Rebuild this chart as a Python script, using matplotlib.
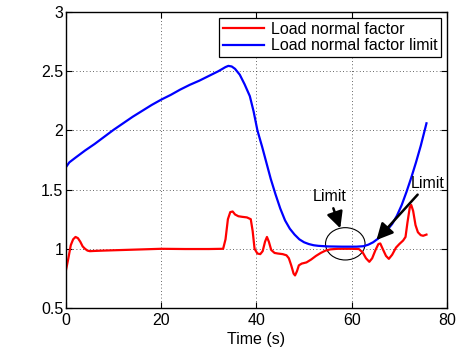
import matplotlib
matplotlib.use("Agg")
import matplotlib.pyplot as plt
from matplotlib.patches import Ellipse

plt.rcParams['font.family'] = ['Liberation Sans', 'DejaVu Sans']

# Load normal factor (red)
t_load = [0, 0.5, 1.0, 1.5, 2.0, 2.5, 3.0, 3.5, 4.0, 4.5, 5.0, 6, 8, 12, 16, 20, 25, 30, 33,
          33.5, 34, 34.5, 35, 35.5, 36.2, 37, 38, 38.8, 39.2, 39.6, 40.2, 40.8, 41.3, 41.8,
          42.2, 42.6, 43.1, 43.8, 44.5, 45.5, 46.3, 46.8, 47.3, 47.8, 48.1, 48.5, 48.9, 49.5,
          50.5, 51.5, 52.5, 53.5, 54.5, 55.5, 57, 60, 61.5, 62.3, 63, 63.7, 64.3, 65, 65.6,
          66, 66.5, 67.2, 67.8, 68.5, 69.3, 70, 70.8, 71.3, 71.7, 72.2, 72.5, 72.9, 73.4,
          73.9, 74.5, 75, 75.7]
load = [0.82, 0.92, 1.03, 1.08, 1.10, 1.09, 1.06, 1.02, 1.00, 0.985, 0.98, 0.982, 0.985,
        0.99, 0.995, 1.0, 0.998, 0.998, 1.0,
        1.08, 1.25, 1.31, 1.315, 1.29, 1.275, 1.27, 1.265, 1.25, 1.15, 1.0, 0.96, 0.955,
        0.98, 1.06, 1.10, 1.06, 0.99, 0.965, 0.96, 0.955, 0.945, 0.92, 0.86, 0.79, 0.775,
        0.81, 0.86, 0.875, 0.885, 0.91, 0.94, 0.965, 0.985, 0.995, 1.0, 1.0, 0.998, 0.97,
        0.92, 0.89, 0.92, 0.99, 1.04, 1.045, 1.0, 0.94, 0.915, 0.95, 1.01, 1.04, 1.07,
        1.10, 1.22, 1.35, 1.37, 1.32, 1.20, 1.14, 1.115, 1.11, 1.12]

# Load normal factor limit (blue)
t_limit = [0, 0.7, 2, 4, 6, 8, 10, 12, 14, 16, 18, 20, 22, 24, 26, 28, 30, 32, 33.5, 34.1,
           34.8, 35.5, 36.5, 37.5, 38.6, 39.4, 40.2, 41.2, 42, 43, 44, 45, 46, 47, 48, 49,
           50, 51, 52, 53, 55, 58, 61, 62.5, 63.5, 64.5, 65.5, 66.5, 67.5, 68.5, 69.5, 70.5,
           71.5, 72.5, 73.5, 74.5, 75.7]
limit = [1.69, 1.73, 1.77, 1.83, 1.885, 1.945, 2.005, 2.06, 2.115, 2.165, 2.215, 2.26, 2.30,
         2.345, 2.385, 2.42, 2.46, 2.50, 2.535, 2.545,
         2.54, 2.52, 2.47, 2.39, 2.29, 2.16, 2.0, 1.86, 1.74, 1.59, 1.46, 1.34, 1.24, 1.17,
         1.12, 1.08, 1.055, 1.04, 1.03, 1.025, 1.02, 1.018, 1.018, 1.022, 1.035, 1.055,
         1.085, 1.12, 1.16, 1.21, 1.28, 1.37, 1.48, 1.60, 1.73, 1.87, 2.06]

xticks = [0, 20, 40, 60, 80]
yticks = [0.5, 1, 1.5, 2, 2.5, 3]
ytick_labels = ['0.5', '1', '1.5', '2', '2.5', '3']

fig = plt.figure(figsize=(4.57, 3.49), dpi=100)
ax = fig.add_axes([0.1444, 0.1175, 0.8336, 0.8481])

ax.plot(t_load, load, color='#ff0000', lw=1.6, label='Load normal factor')
ax.plot(t_limit, limit, color='#0000ff', lw=1.6, label='Load normal factor limit')

ax.set_xlim(0, 80)
ax.set_ylim(0.5, 3)
ax.set_xticks(xticks)
ax.set_xticklabels([str(v) for v in xticks])
ax.set_yticks(yticks)
ax.set_yticklabels(ytick_labels)
ax.tick_params(direction='in', top=True, right=True, length=4, width=0.8,
               labelsize=11.5, pad=2)
ax.tick_params(axis='x', pad=3.5)
ax.grid(True, color='#333333', linestyle=(0, (1, 3)), linewidth=0.6)
for s in ax.spines.values():
    s.set_linewidth(1.0)
ax.set_xlabel('Time (s)', fontsize=11.5, labelpad=3)

ax.add_patch(Ellipse((58.65, 1.042), 8.3, 0.273, fill=False, edgecolor='black', lw=0.8))
ax.annotate('Limit', xy=(57.6, 1.173), xytext=(55.3, 1.44), ha='center', va='center',
            fontsize=11.5,
            arrowprops=dict(arrowstyle='-|>,head_length=0.7,head_width=0.35', color='black',
                            lw=1.8, mutation_scale=14, shrinkA=1, shrinkB=0))
ax.annotate('Limit', xy=(65.2, 1.074), xytext=(76.0, 1.553), ha='center', va='center',
            fontsize=11.5,
            arrowprops=dict(arrowstyle='-|>,head_length=0.7,head_width=0.35', color='black',
                            lw=1.8, mutation_scale=14, shrinkA=1, shrinkB=0))

leg = ax.legend(loc='upper right', fontsize=11.5, frameon=True, fancybox=False,
                edgecolor='black', framealpha=1, handlelength=2.6, borderpad=0.25,
                labelspacing=0.1, handletextpad=0.4, borderaxespad=0.35)
leg.get_frame().set_linewidth(0.9)

fig.savefig('out.png', dpi=100)
